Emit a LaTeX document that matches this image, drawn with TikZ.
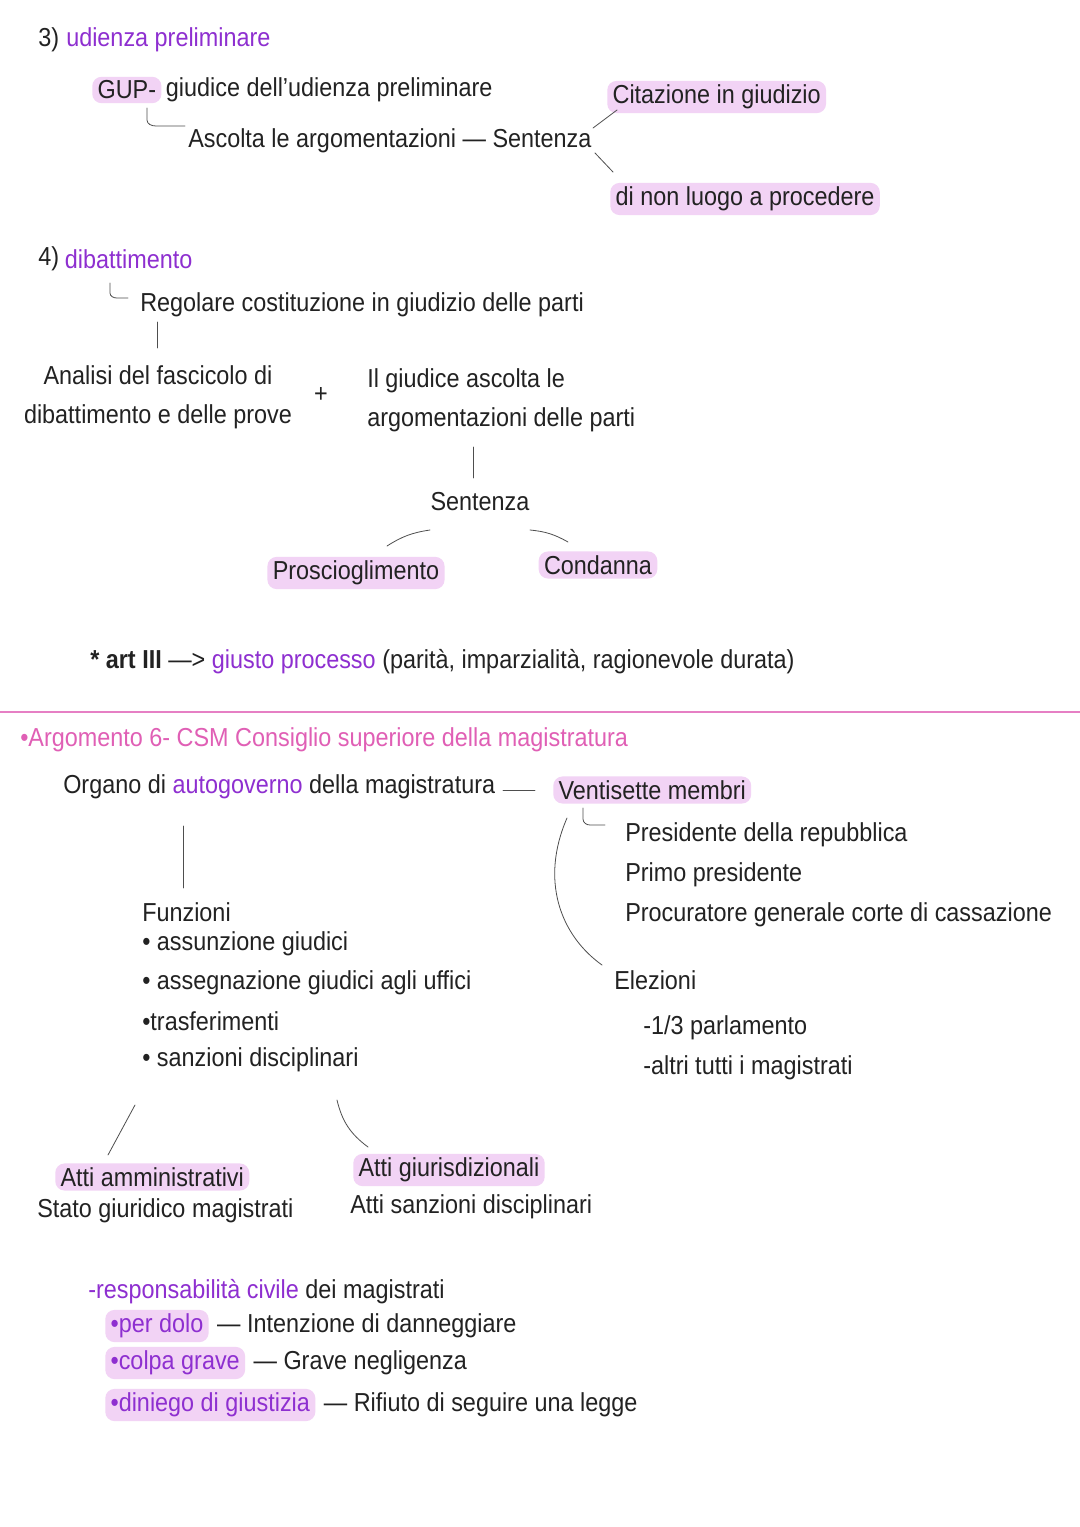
\documentclass[tikz,border=0pt]{standalone}
\usepackage{fontspec}
\setmainfont{Liberation Sans}[FakeStretch=0.9]
\definecolor{pur}{HTML}{8E2FD0}
\definecolor{pnk}{HTML}{E05FB5}
\definecolor{hlc}{HTML}{F2D3F5}
\definecolor{ink}{HTML}{222222}
\begin{document}
\begin{tikzpicture}[x=0.75pt,y=-0.75pt,
  every node/.style={anchor=west,inner sep=0pt,text=ink,font=\fontsize{19.5}{29}\selectfont},
  hl/.style={fill=hlc,rounded corners=7pt,inner xsep=4pt,inner ysep=3pt},
  pu/.style={text=pur},
  ln/.style={draw=ink!80,line width=0.6pt,line cap=round}]
\useasboundingbox[fill=white] (0,0) rectangle (1080,1527);
% section 3
\node (n3) at (38,40) {3)};
\node[pu] (up) at ([xshift=5pt]n3.east) {udienza preliminare};
\node[hl] (gup) at (92,90) {GUP-};
\node (gud) at ([xshift=3pt]gup.east) {giudice dell'udienza preliminare};
\node (asc) at (188,141) {Ascolta le argomentazioni — Sentenza};
\draw[ln] (147,108) -- (147,120) to[out=-90,in=180] (156,126) -- (185,126);
\node[hl] (cit) at (607,97) {Citazione in giudizio};
\node[hl] (nlp) at (610,199) {di non luogo a procedere};
\draw[ln] (593,128) -- (617,110);
\draw[ln] (595,153) -- (613,172);
% section 4
\node (n4) at (38,259) {4)};
\node[pu] (dib) at ([xshift=4pt]n4.east) {dibattimento};
\draw[ln] (110,283) -- (110,293) to[out=-90,in=180] (117,298) -- (128,298);
\node (reg) at (140,305) {Regolare costituzione in giudizio delle parti};
\draw[ln] (157,322) -- (157,348);
\node[align=center,anchor=center] (ana) at (158,397) {Analisi del fascicolo di\\dibattimento e delle prove};
\node[anchor=center] (plus) at (321,395) {+};
\node[align=left] (giu) at (367,400) {Il giudice ascolta le\\argomentazioni delle parti};
\draw[ln] (473,447) -- (473,478);
\node[anchor=center] (sen) at (480,502) {Sentenza};
\draw[ln] (387,546) to[bend left=12] (430,530);
\draw[ln] (530,530) to[bend left=12] (568,542);
\node[hl,anchor=center] (pro) at (356,573) {Proscioglimento};
\node[hl,anchor=center] (con) at (598,565) {Condanna};
\node (art) at (90,662) {\textbf{* art III} —> \textcolor{pur}{giusto processo} (parità, imparzialità, ragionevole durata)};
\draw[pnk!80,line width=1pt] (0,712) -- (1080,712);
% CSM
\node[text=pnk] (arg) at (20,740) {•Argomento 6- CSM Consiglio superiore della magistratura};
\node (org) at (63,787) {Organo di \textcolor{pur}{autogoverno} della magistratura};
\draw[ln] (503,790) -- (535,790);
\node[hl] (ven) at (553,790) {Ventisette membri};
\draw[ln] (583,808) -- (583,819) to[out=-90,in=180] (590,825) -- (605,825);
\node (p1) at (625,835) {Presidente della repubblica};
\node (p2) at (625,875) {Primo presidente};
\node (p3) at (625,915) {Procuratore generale corte di cassazione};
\draw[ln] (567,818) .. controls (540,880) and (560,935) .. (602,965);
\node (ele) at (614,980) {Elezioni};
\node (e1) at (643,1028) {-1/3 parlamento};
\node (e2) at (643,1068) {-altri tutti i magistrati};
\draw[ln] (183,826) -- (183,888);
\node (fun) at (142,912) {Funzioni};
\node (f1) at (142,944) {• assunzione giudici};
\node (f2) at (142,983) {• assegnazione giudici agli uffici};
\node (f3) at (142,1021) {•trasferimenti};
\node (f4) at (142,1060) {• sanzioni disciplinari};
\draw[ln] (135,1105) -- (108,1155);
\draw[ln] (337,1100) to[bend right=20] (368,1147);
\node[hl] (aa) at (55,1177) {Atti amministrativi};
\node (sg) at (37,1211) {Stato giuridico magistrati};
\node[hl] (ag) at (353,1170) {Atti giurisdizionali};
\node (as) at (350,1207) {Atti sanzioni disciplinari};
% responsabilità
\node (rc) at (88,1292) {\textcolor{pur}{-responsabilità civile} dei magistrati};
\node[hl,pu] (r1) at (105,1326) {•per dolo};
\node (r1b) at ([xshift=6pt]r1.east) {— Intenzione di danneggiare};
\node[hl,pu] (r2) at (105,1363) {•colpa grave};
\node (r2b) at ([xshift=6pt]r2.east) {— Grave negligenza};
\node[hl,pu] (r3) at (105,1405) {•diniego di giustizia};
\node (r3b) at ([xshift=6pt]r3.east) {— Rifiuto di seguire una legge};
\end{tikzpicture}
\end{document}
